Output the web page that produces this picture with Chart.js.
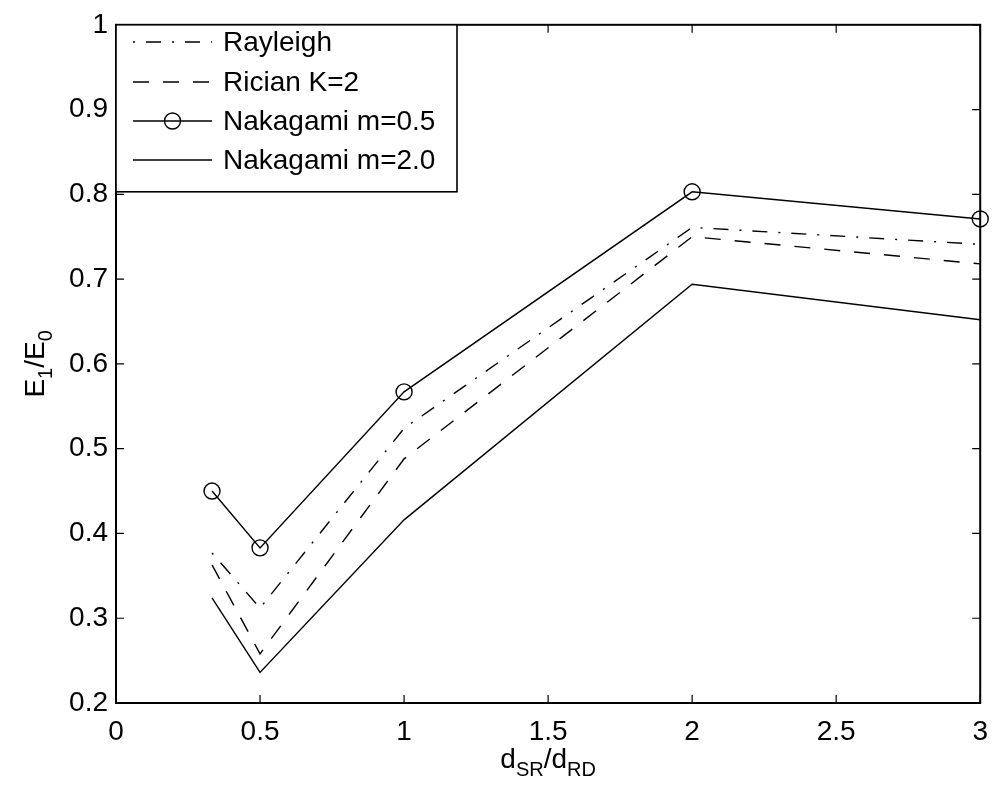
<!DOCTYPE html>
<html><head><meta charset="utf-8">
<script src="https://cdn.jsdelivr.net/npm/chart.js@4/dist/chart.umd.min.js"></script>
<style>html,body{margin:0;padding:0;background:#fff;overflow:hidden}canvas{display:block}</style>
</head><body>
<canvas id="c" width="1000" height="792"></canvas>
<script>
// ---- data ----
const xValues = [0.3333, 0.5, 1, 2, 3];
const rayleigh = [0.377, 0.312, 0.524, 0.761, 0.741];
const rician = [0.363, 0.258, 0.488, 0.750, 0.718];
const nakagami05 = [0.450, 0.383, 0.567, 0.803, 0.771];
const nakagami20 = [0.324, 0.236, 0.416, 0.694, 0.652];
const seriesLabels = ['Rayleigh', 'Rician K=2', 'Nakagami m=0.5', 'Nakagami m=2.0'];
const xTickLabels = ['0', '0.5', '1', '1.5', '2', '2.5', '3'];
const yTickLabels = ['0.2', '0.3', '0.4', '0.5', '0.6', '0.7', '0.8', '0.9', '1'];
const xTitleParts = [['d', 0], ['SR', 1], ['/', 0], ['d', 0], ['RD', 1]];
const yTitleParts = [['E', 0], ['1', 1], ['/', 0], ['E', 0], ['0', 1]];

const FONT = "'Liberation Sans', Arial, Helvetica, sans-serif";
const pts = arr => xValues.map((x, i) => ({x: x, y: arr[i]}));

function ds(label, arr, dash, dashOffset, marker) {
  return {
    label: label, data: pts(arr),
    borderColor: '#000', borderWidth: 1.4, borderDash: dash, borderDashOffset: dashOffset,
    pointRadius: marker ? 8 : 0, pointHoverRadius: marker ? 8 : 0,
    pointStyle: 'circle', pointBackgroundColor: 'rgba(0,0,0,0)',
    pointBorderColor: '#000', pointBorderWidth: 1.4,
    tension: 0, fill: false, clip: false
  };
}

function drawParts(ctx, parts, size, subSize, subShift) {
  let w = 0;
  parts.forEach(p => {
    ctx.font = (p[1] ? subSize : size) + 'px ' + FONT;
    w += ctx.measureText(p[0]).width;
  });
  let x = -w / 2;
  parts.forEach(p => {
    ctx.font = (p[1] ? subSize : size) + 'px ' + FONT;
    ctx.fillText(p[0], x, p[1] ? subShift : 0);
    x += ctx.measureText(p[0]).width;
  });
}

const frame = {
  id: 'frame',
  afterDraw(chart) {
    const ctx = chart.ctx, a = chart.chartArea, xs = chart.scales.x, ys = chart.scales.y;
    ctx.save();
    ctx.strokeStyle = '#000';
    ctx.setLineDash([]);
    const tl = 8;
    ctx.lineWidth = 1.2;
    ctx.beginPath();
    xs.ticks.forEach(t => {
      const px = xs.getPixelForValue(t.value);
      ctx.moveTo(px, a.bottom); ctx.lineTo(px, a.bottom - tl);
      ctx.moveTo(px, a.top); ctx.lineTo(px, a.top + tl);
    });
    ys.ticks.forEach(t => {
      const py = ys.getPixelForValue(t.value);
      ctx.moveTo(a.left, py); ctx.lineTo(a.left + tl, py);
      ctx.moveTo(a.right, py); ctx.lineTo(a.right - tl, py);
    });
    ctx.stroke();
    ctx.lineWidth = 2;
    ctx.strokeRect(a.left, a.top, a.right - a.left, a.bottom - a.top);

    // legend
    const lx = a.left, ly = a.top, lw = 341, lh = 167;
    ctx.fillStyle = '#fff';
    ctx.fillRect(lx, ly, lw, lh);
    ctx.lineWidth = 1.6;
    ctx.strokeRect(lx, ly, lw, lh);
    const rows = [42, 82, 121, 160];
    chart.data.datasets.forEach((d, i) => {
      const yy = rows[i];
      ctx.save();
      ctx.lineWidth = d.borderWidth;
      ctx.strokeStyle = '#000';
      ctx.setLineDash(d.borderDash || []);
      ctx.lineDashOffset = d.borderDashOffset || 0;
      ctx.beginPath(); ctx.moveTo(133, yy); ctx.lineTo(212, yy); ctx.stroke();
      ctx.setLineDash([]);
      if (d.pointRadius > 0) {
        ctx.lineWidth = d.pointBorderWidth;
        ctx.beginPath(); ctx.arc(172.5, yy, d.pointRadius, 0, Math.PI * 2); ctx.stroke();
      }
      ctx.restore();
      ctx.fillStyle = '#000';
      ctx.font = '28px ' + FONT;
      ctx.textBaseline = 'middle';
      ctx.textAlign = 'left';
      ctx.fillText(d.label, 223, yy + 1);
    });

    // axis titles
    ctx.fillStyle = '#000';
    ctx.textBaseline = 'alphabetic';
    ctx.textAlign = 'left';
    ctx.save();
    ctx.translate((a.left + a.right) / 2, 768);
    drawParts(ctx, xTitleParts, 28, 20, 8);
    ctx.restore();
    ctx.save();
    ctx.translate(44, (a.top + a.bottom) / 2);
    ctx.rotate(-Math.PI / 2);
    drawParts(ctx, yTitleParts, 28, 20, 8);
    ctx.restore();
    ctx.restore();
  }
};

new Chart(document.getElementById('c'), {
  type: 'line',
  data: {
    datasets: [
      ds(seriesLabels[0], rayleigh, [15, 11, 2, 11], 26, false),
      ds(seriesLabels[1], rician, [16, 14], 0, false),
      ds(seriesLabels[2], nakagami05, [], 0, true),
      ds(seriesLabels[3], nakagami20, [], 0, false)
    ]
  },
  options: {
    responsive: false, animation: false, devicePixelRatio: 1,
    layout: {padding: {left: 0, top: 17, right: 13, bottom: 0}},
    plugins: {legend: {display: false}, tooltip: {enabled: false}},
    scales: {
      x: {
        type: 'linear', min: 0, max: 3,
        afterFit: s => { s.height = 89; },
        ticks: {stepSize: 0.5, autoSkip: false, maxRotation: 0, padding: 12, color: '#000',
          font: {family: FONT, size: 28}, callback: (v, i) => xTickLabels[i]},
        grid: {drawOnChartArea: false, drawTicks: false},
        border: {display: false}
      },
      y: {
        type: 'linear', min: 0.2, max: 1,
        afterFit: s => { s.width = 116; },
        ticks: {stepSize: 0.1, autoSkip: false, padding: 8, color: '#000',
          font: {family: FONT, size: 28}, callback: (v, i) => yTickLabels[i]},
        grid: {drawOnChartArea: false, drawTicks: false},
        border: {display: false}
      }
    }
  },
  plugins: [frame]
});
</script>
</body></html>
